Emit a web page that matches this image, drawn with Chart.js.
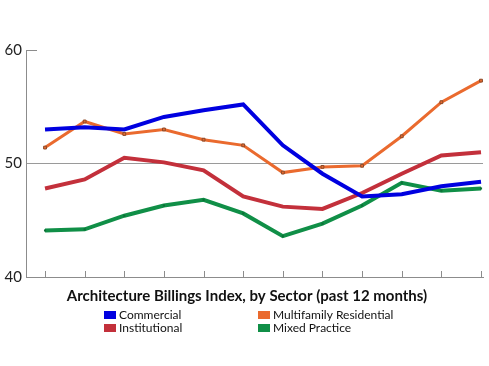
<!DOCTYPE html>
<html><head><meta charset="utf-8">
<script src="https://cdn.jsdelivr.net/npm/chart.js@4/dist/chart.umd.min.js"></script>
<style>html,body{margin:0;padding:0;background:#fff;}#wrap{width:489px;height:366px;}</style>
</head><body><div id="wrap"><canvas id="c" width="489" height="366"></canvas></div>
<script>
const months = [0,1,2,3,4,5,6,7,8,9,10,11];
const commercial   = [53.0,53.2,53.0,54.1,54.7,55.2,51.6,49.1,47.1,47.3,48.0,48.4];
const multifamily  = [51.4,53.7,52.6,53.0,52.1,51.6,49.2,49.7,49.8,52.4,55.4,57.3];
const institutional= [47.8,48.6,50.5,50.1,49.4,47.1,46.2,46.0,47.4,49.1,50.7,51.0];
const mixed        = [44.1,44.2,45.4,46.3,46.8,45.6,43.6,44.7,46.3,48.3,47.6,47.8];
const yTicks = [40,50,60];
const titleText = "Architecture Billings Index, by Sector (past 12 months)";
const seriesNames = ["Commercial","Multifamily Residential","Institutional","Mixed Practice"];
const seriesColors = ["#0000e0","#ea6a2e","#c3303b","#108f47"];

const pts = arr => arr.map((v,i)=>({x:months[i],y:v}));

const decor = {
  id:'decor',
  afterDatasetsDraw(chart){
    const {ctx, chartArea:a, scales:{x,y}} = chart;
    ctx.save();
    ctx.strokeStyle = '#8c8c8c'; ctx.lineWidth = 1;
    months.forEach(m=>{
      const px = Math.round(x.getPixelForValue(m))+0.5;
      ctx.beginPath(); ctx.moveTo(px, a.bottom); ctx.lineTo(px, a.bottom-6); ctx.stroke();
    });
    const py = Math.round(y.getPixelForValue(60))+0.5;
    ctx.beginPath(); ctx.moveTo(a.left, py); ctx.lineTo(a.left+11, py); ctx.stroke();
    ctx.restore();
  },
  afterDraw(chart){
    const {ctx} = chart;
    ctx.save();
    ctx.fillStyle = '#111';
    ctx.textBaseline = 'middle';
    ctx.font = 'bold 15px Lato';
    ctx.textAlign = 'center';
    ctx.fillText(titleText, 247, 296);
    ctx.textAlign = 'left';
    ctx.font = '12px Lato';
    const cols = [104, 258], rows = [315, 328];
    const order = [[0,0],[1,0],[0,1],[1,1]];
    seriesNames.forEach((n,i)=>{
      const cx = cols[order[i][0]], cy = rows[order[i][1]];
      ctx.fillStyle = seriesColors[i];
      ctx.fillRect(cx, cy-4, 12, 8);
      ctx.fillStyle = '#111';
      ctx.fillText(n, cx+15, cy);
    });
    ctx.restore();
  }
};

new Chart(document.getElementById('c'), {
  type:'line',
  data:{datasets:[
    {label:seriesNames[0], data:pts(commercial), borderColor:seriesColors[0], borderWidth:4, pointRadius:0, tension:0},
    {label:seriesNames[1], data:pts(multifamily), borderColor:seriesColors[1], borderWidth:3, pointRadius:2, pointStyle:'rect', pointBackgroundColor:seriesColors[1], pointBorderColor:'#8a4a2a', pointBorderWidth:1, tension:0},
    {label:seriesNames[2], data:pts(institutional), borderColor:seriesColors[2], borderWidth:4, pointRadius:0, tension:0},
    {label:seriesNames[3], data:pts(mixed), borderColor:seriesColors[3], borderWidth:4, pointRadius:1.5, pointStyle:'rect', pointBackgroundColor:'#0c6e36', pointBorderWidth:0, tension:0}
  ]},
  options:{
    responsive:false, animation:false, devicePixelRatio:1,
    layout:{padding:{top:50,right:6,bottom:89,left:0}},
    plugins:{legend:{display:false}, tooltip:{enabled:false}, title:{display:false}},
    scales:{
      x:{type:'linear', min:-0.48, max:11.05, afterFit(s){s.height=0;}, ticks:{display:false}, grid:{display:false, drawTicks:false},
         border:{display:true,color:'#8c8c8c',width:1}},
      y:{min:40, max:60, afterFit(s){s.width=26;},
         afterBuildTicks(s){s.ticks = yTicks.map(v=>({value:v}));},
         ticks:{color:'#222', font:{family:'Lato', size:15}, padding:4},
         grid:{drawTicks:false, color:c=> c.tick && c.tick.value===50 ? '#9a9a9a' : 'rgba(0,0,0,0)'},
         border:{display:true,color:'#8c8c8c',width:1}}
    }
  },
  plugins:[decor]
});
</script></body></html>
